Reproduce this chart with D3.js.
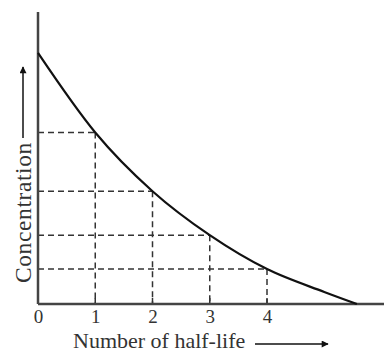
<!DOCTYPE html>
<html>
<head>
<meta charset="utf-8">
<script src="https://cdn.jsdelivr.net/npm/d3@7"></script>
<style>
  body { margin: 0; background: #fff; }
  text { font-family: "Liberation Serif", "Times New Roman", serif; fill: #333; }
</style>
</head>
<body>
<div id="chart"></div>
<script>
// ---------- DATA ----------
// number of half-lives (x) and relative concentration (C / C0)
const halfLives = [0, 1, 2, 3, 4];
const halfLifeConc = [1.0, 0.683, 0.449, 0.274, 0.139];
// tail of the curve after the 4th half-life, down to the axis
const tailT = [5, 5.57];
const tailConc = [0.048, 0.0];
const tickLabels = ["0", "1", "2", "3", "4"];
const xTitle = "Number of half-life";
const yTitle = "Concentration";

// ---------- SETUP ----------
const W = 384, H = 353;
const svg = d3.select("#chart").append("svg")
  .attr("width", W)
  .attr("height", H);

// x: 0..4 half-lives, y: relative concentration
const x = d3.scaleLinear().domain([0, 4]).range([38, 267]);
const y = d3.scaleLinear().domain([0, 1.163]).range([304, 12]);

// marker for the label arrows
svg.append("defs").append("marker")
  .attr("id", "arr")
  .attr("viewBox", "0 0 10 10")
  .attr("refX", 9)
  .attr("refY", 5)
  .attr("markerWidth", 9)
  .attr("markerHeight", 7)
  .attr("markerUnits", "userSpaceOnUse")
  .attr("orient", "auto")
  .append("path")
  .attr("d", "M0,0 L10,5 L0,10 z")
  .attr("fill", "#111");

// ---------- DASHED GUIDES ----------
const guides = halfLives.slice(1).map((t, i) => ({ t, c: halfLifeConc[i + 1] }));

svg.selectAll(".hguide")
  .data(guides)
  .enter()
  .append("line")
  .attr("class", "hguide")
  .attr("x1", x(0))
  .attr("x2", d => x(d.t))
  .attr("y1", d => y(d.c))
  .attr("y2", d => y(d.c))
  .attr("stroke", "#333")
  .attr("stroke-width", 1.5)
  .attr("stroke-dasharray", "6,4");

svg.selectAll(".vguide")
  .data(guides)
  .enter()
  .append("line")
  .attr("class", "vguide")
  .attr("x1", d => x(d.t))
  .attr("x2", d => x(d.t))
  .attr("y1", d => y(d.c))
  .attr("y2", y(0))
  .attr("stroke", "#333")
  .attr("stroke-width", 1.5)
  .attr("stroke-dasharray", "6,4");

// ---------- AXES ----------
const xAxis = svg.append("g")
  .attr("transform", `translate(0,${y(0)})`)
  .call(d3.axisBottom(x)
    .tickValues(halfLives)
    .tickFormat((d, i) => tickLabels[i])
    .tickSize(0)
    .tickPadding(6));
xAxis.select(".domain").remove();
xAxis.selectAll("text")
  .style("font-size", "19px")
  .style("font-family", "Liberation Serif, serif");

// small upward ticks
svg.selectAll(".tick-up")
  .data(halfLives.slice(1))
  .enter()
  .append("line")
  .attr("x1", d => x(d))
  .attr("x2", d => x(d))
  .attr("y1", y(0))
  .attr("y2", y(0) - 6)
  .attr("stroke", "#333")
  .attr("stroke-width", 1.5);

svg.append("line")
  .attr("x1", x(0))
  .attr("x2", W)
  .attr("y1", y(0))
  .attr("y2", y(0))
  .attr("stroke", "#444")
  .attr("stroke-width", 2.5);

svg.append("line")
  .attr("x1", x(0))
  .attr("x2", x(0))
  .attr("y1", y(1.163))
  .attr("y2", y(0))
  .attr("stroke", "#444")
  .attr("stroke-width", 2.5);

// ---------- DECAY CURVE ----------
const pts = halfLives.map((t, i) => [t, halfLifeConc[i]])
  .concat(tailT.map((t, i) => [t, tailConc[i]]));

const line = d3.line()
  .x(d => x(d[0]))
  .y(d => y(d[1]))
  .curve(d3.curveMonotoneX);

svg.append("path")
  .datum(pts)
  .attr("fill", "none")
  .attr("stroke", "#111")
  .attr("stroke-width", 2.2)
  .attr("d", line);

// ---------- TITLES ----------
svg.append("text")
  .attr("x", 73)
  .attr("y", 348)
  .style("font-size", "22px")
  .text(xTitle);

svg.append("line")
  .attr("x1", 255)
  .attr("x2", 328)
  .attr("y1", 344)
  .attr("y2", 344)
  .attr("stroke", "#111")
  .attr("stroke-width", 1.5)
  .attr("marker-end", "url(#arr)");

svg.append("text")
  .attr("transform", "translate(31,283) rotate(-90)")
  .style("font-size", "23.5px")
  .style("letter-spacing", "0.6px")
  .text(yTitle);

svg.append("line")
  .attr("x1", 23)
  .attr("x2", 23)
  .attr("y1", 138)
  .attr("y2", 67)
  .attr("stroke", "#111")
  .attr("stroke-width", 1.5)
  .attr("marker-end", "url(#arr)");
</script>
</body>
</html>
